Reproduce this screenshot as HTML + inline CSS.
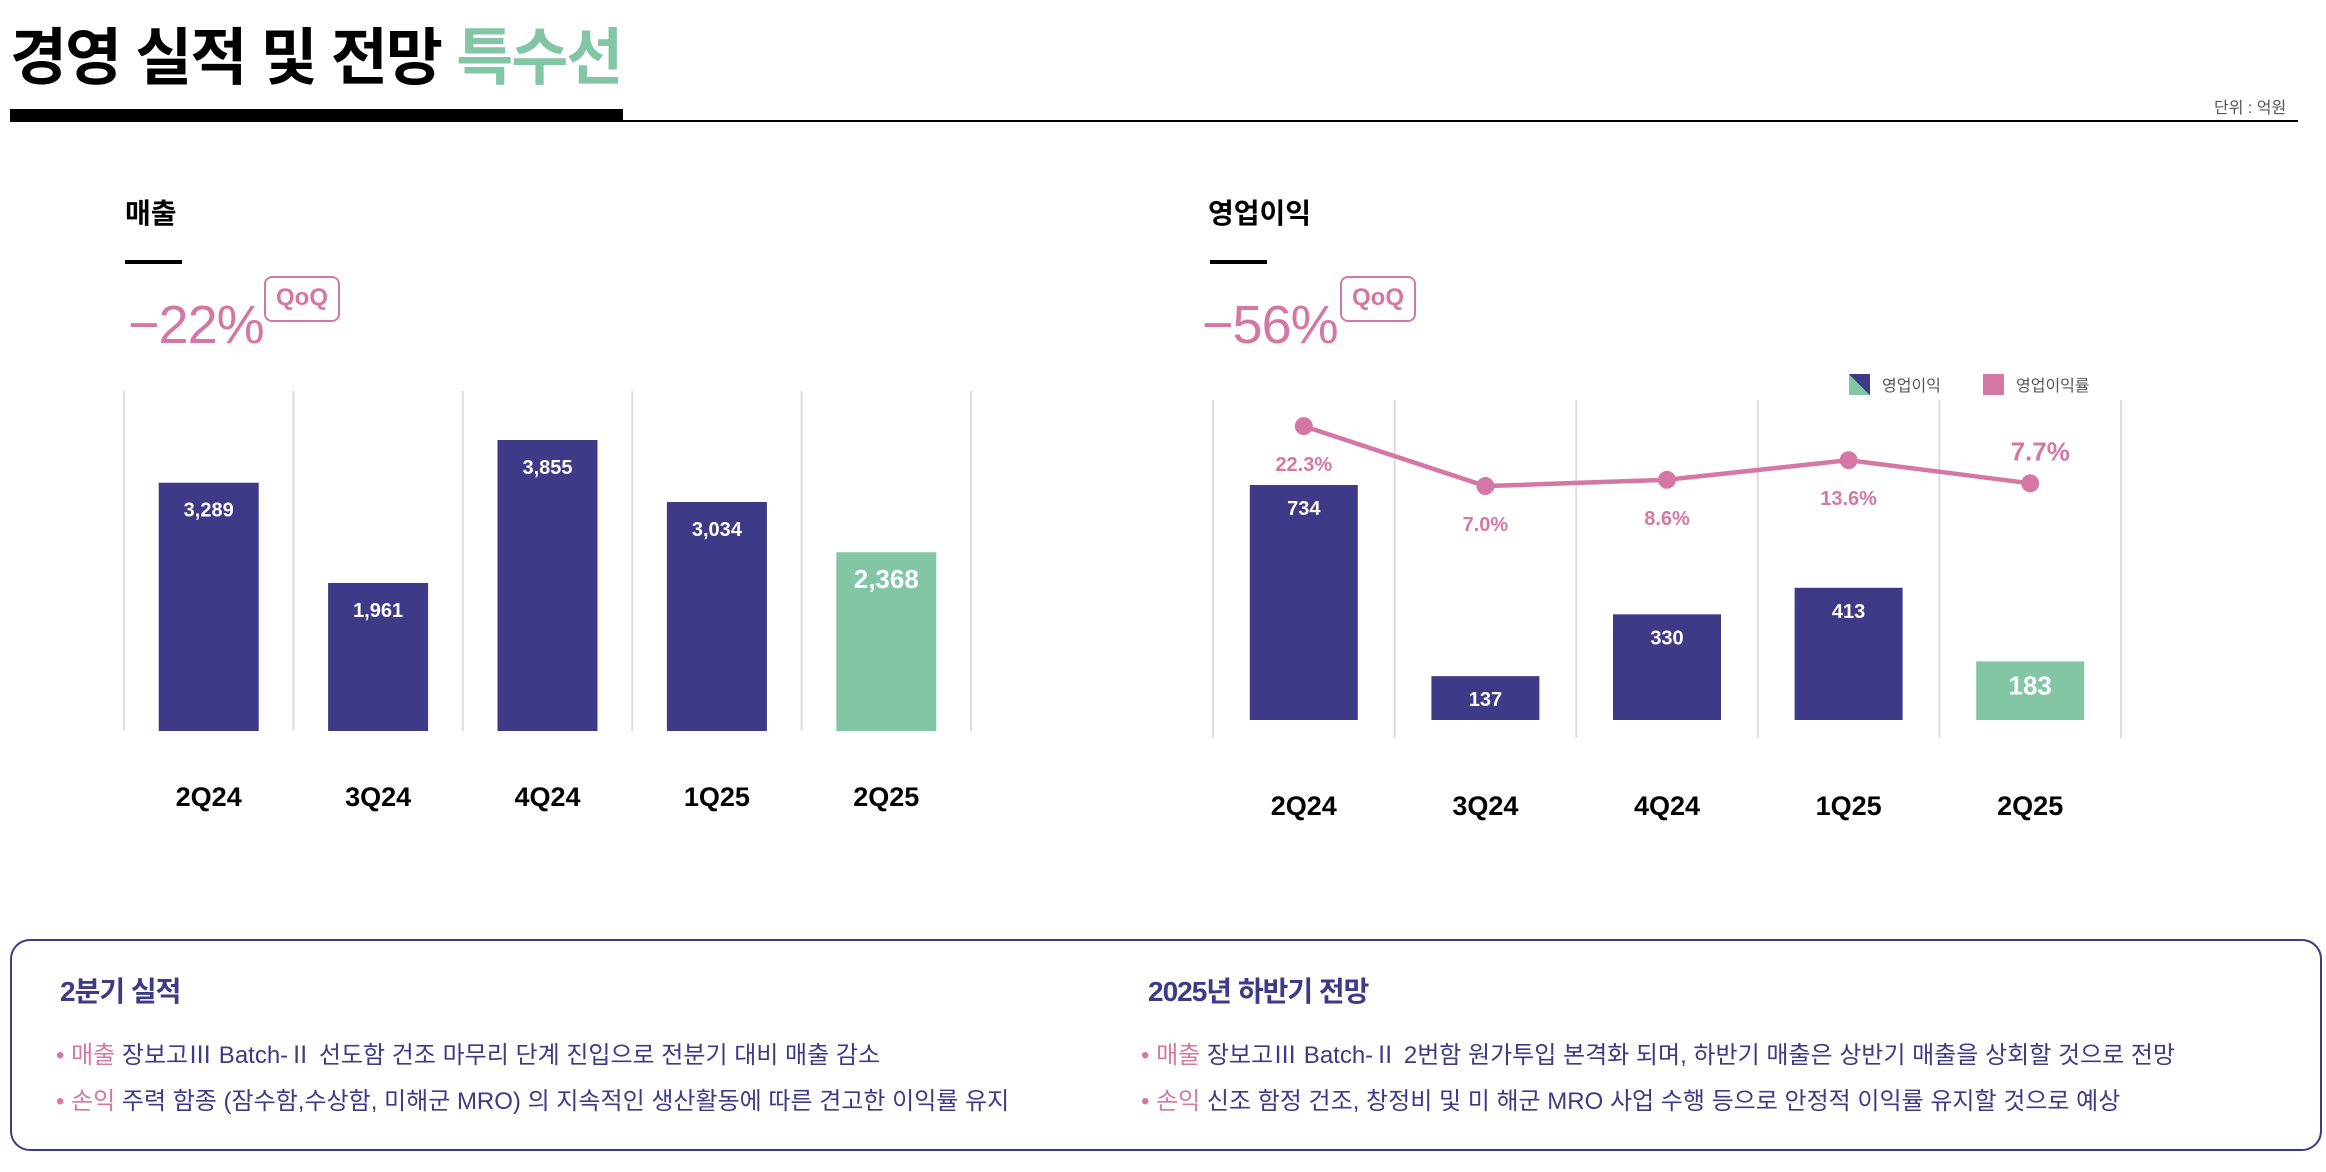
<!DOCTYPE html>
<html lang="ko"><head><meta charset="utf-8">
<style>
*{margin:0;padding:0;box-sizing:border-box}
body{width:2326px;height:1172px;background:#fff;position:relative;overflow:hidden;font-family:"Liberation Sans","Noto Sans CJK KR",sans-serif}
.abs{position:absolute}
.title{left:10px;top:28px;font-size:62px;font-weight:700;letter-spacing:-2px;color:#000;line-height:1}
.title span{color:#82c6a6}
.sub{font-size:28px;font-weight:700;color:#000}
.pct{font-size:54px;color:#d477a5;letter-spacing:-1px;line-height:1}
.qoq{border:2.5px solid #d477a5;border-radius:8px;color:#d477a5;font-weight:700;font-size:24px;width:76px;height:46px;text-align:center;line-height:40px}
.box{left:10px;top:939px;width:2312px;height:212px;border:2.5px solid #3e3a87;border-radius:20px}
.bh{font-size:28px;font-weight:700;color:#3e3a87;letter-spacing:-1px}
.bl{font-size:24px;color:#3e3a87;white-space:nowrap}
.bl b{color:#d477a5;font-weight:400}
</style></head><body>
<div class="abs title">경영 실적 및 전망 <span>특수선</span></div>
<div class="abs" style="left:10px;top:109px;width:613px;height:13px;background:#000"></div>
<div class="abs" style="left:623px;top:120px;width:1675px;height:2px;background:#000"></div>
<div class="abs" style="left:2214px;top:94px;font-size:16px;color:#555">단위 : 억원</div>

<div class="abs sub" style="left:125px;top:192px">매출</div>
<div class="abs" style="left:125px;top:260px;width:57px;height:4px;background:#000"></div>
<div class="abs pct" style="left:128px;top:298px">−22%</div>
<div class="abs qoq" style="left:264px;top:276px">QoQ</div>

<div class="abs sub" style="left:1208px;top:192px">영업이익</div>
<div class="abs" style="left:1210px;top:260px;width:57px;height:4px;background:#000"></div>
<div class="abs pct" style="left:1202px;top:298px">−56%</div>
<div class="abs qoq" style="left:1340px;top:276px">QoQ</div>

<svg class="abs" style="left:0;top:0" width="2326" height="930" id="charts">
<defs><linearGradient id="lg" x1="0" y1="1" x2="1" y2="0"><stop offset="0.5" stop-color="#82c6a6"/><stop offset="0.5" stop-color="#3e3a87"/></linearGradient></defs>
<rect x="1849" y="374" width="21" height="21" fill="url(#lg)"/>
<text x="1882" y="391" font-size="16" fill="#555">영업이익</text>
<rect x="1983" y="374" width="21" height="21" fill="#d477a5"/>
<text x="2016" y="391" font-size="16" fill="#555">영업이익률</text>
</svg>

<div class="abs box"></div>
<div class="abs bh" style="left:60px;top:970px">2분기 실적</div>
<div class="abs bh" style="left:1148px;top:970px">2025년 하반기 전망</div>
<div class="abs bl" style="left:56px;top:1035px"><b>• 매출</b> 장보고Ⅲ Batch-Ⅱ 선도함 건조 마무리 단계 진입으로 전분기 대비 매출 감소</div>
<div class="abs bl" style="left:56px;top:1081px"><b>• 손익</b> 주력 함종 (잠수함,수상함, 미해군 MRO) 의 지속적인 생산활동에 따른 견고한 이익률 유지</div>
<div class="abs bl" style="left:1141px;top:1035px"><b>• 매출</b> 장보고Ⅲ Batch-Ⅱ 2번함 원가투입 본격화 되며, 하반기 매출은 상반기 매출을 상회할 것으로 전망</div>
<div class="abs bl" style="left:1141px;top:1081px"><b>• 손익</b> 신조 함정 건조, 창정비 및 미 해군 MRO 사업 수행 등으로 안정적 이익률 유지할 것으로 예상</div>

<script>
const categories=["2Q24","3Q24","4Q24","1Q25","2Q25"];
const revenue=[3289,1961,3855,3034,2368];
const revenueLabels=["3,289","1,961","3,855","3,034","2,368"];
const opProfit=[734,137,330,413,183];
const opMargin=[22.3,7.0,8.6,13.6,7.7];
const marginLabels=["22.3%","7.0%","8.6%","13.6%","7.7%"];
const NS="http://www.w3.org/2000/svg";
const svg=document.getElementById('charts');
function mk(t,a){const e=document.createElementNS(NS,t);for(const k in a)e.setAttribute(k,a[k]);svg.appendChild(e);return e;}
const NAVY="#3e3a87",GREEN="#82c6a6",PINK="#d477a5";
const L0=124,LW=169.4,LB=731,LT=391;
const ly=v=>LB-v*(291/3855);
for(let i=0;i<=5;i++){const g=mk('line',{x1:L0+i*LW,x2:L0+i*LW,y1:LT,y2:LB,stroke:'#ddd','stroke-width':2});

}
revenue.forEach((v,i)=>{const cx=L0+LW*(i+0.5),last=i===4;
const r=mk('rect',{x:cx-50,y:ly(v),width:100,height:LB-ly(v),fill:last?GREEN:NAVY});


const t=mk('text',{x:cx,y:ly(v)+(last?36:34),'text-anchor':'middle',fill:'#fff','font-size':last?26:20,'font-weight':700});
t.textContent=revenueLabels[i];


const x=mk('text',{x:cx,y:806,'text-anchor':'middle',fill:'#000','font-size':27,'font-weight':700});
x.textContent=categories[i];

});
const R0=1213,RW=181.6,RB=720,RT=400;
const ry=v=>RB-v*(235/734);
const my=p=>513.5-3.92*p;
for(let i=0;i<=5;i++){const g=mk('line',{x1:R0+i*RW,x2:R0+i*RW,y1:RT,y2:738,stroke:'#ddd','stroke-width':2});

}
opProfit.forEach((v,i)=>{const cx=R0+RW*(i+0.5),last=i===4;
const r=mk('rect',{x:cx-54,y:ry(v),width:108,height:RB-ry(v),fill:last?GREEN:NAVY});


const t=mk('text',{x:cx,y:ry(v)+(last?33:30),'text-anchor':'middle',fill:'#fff','font-size':last?26:20,'font-weight':700});
t.textContent=String(v);


const x=mk('text',{x:cx,y:815,'text-anchor':'middle',fill:'#000','font-size':27,'font-weight':700});
x.textContent=categories[i];

});
const pts=opMargin.map((p,i)=>(R0+RW*(i+0.5))+','+my(p)).join(' ');
const pl=mk('polyline',{points:pts,fill:'none',stroke:PINK,'stroke-width':4.5});


opMargin.forEach((p,i)=>{const cx=R0+RW*(i+0.5),last=i===4;
const c=mk('circle',{cx:cx,cy:my(p),r:9,fill:PINK});


const t=mk('text',{x:last?cx+10:cx,y:last?my(p)-23:my(p)+45,'text-anchor':'middle',fill:PINK,'font-size':last?26:20,'font-weight':700});
t.textContent=marginLabels[i];

});
</script>
</body></html>
